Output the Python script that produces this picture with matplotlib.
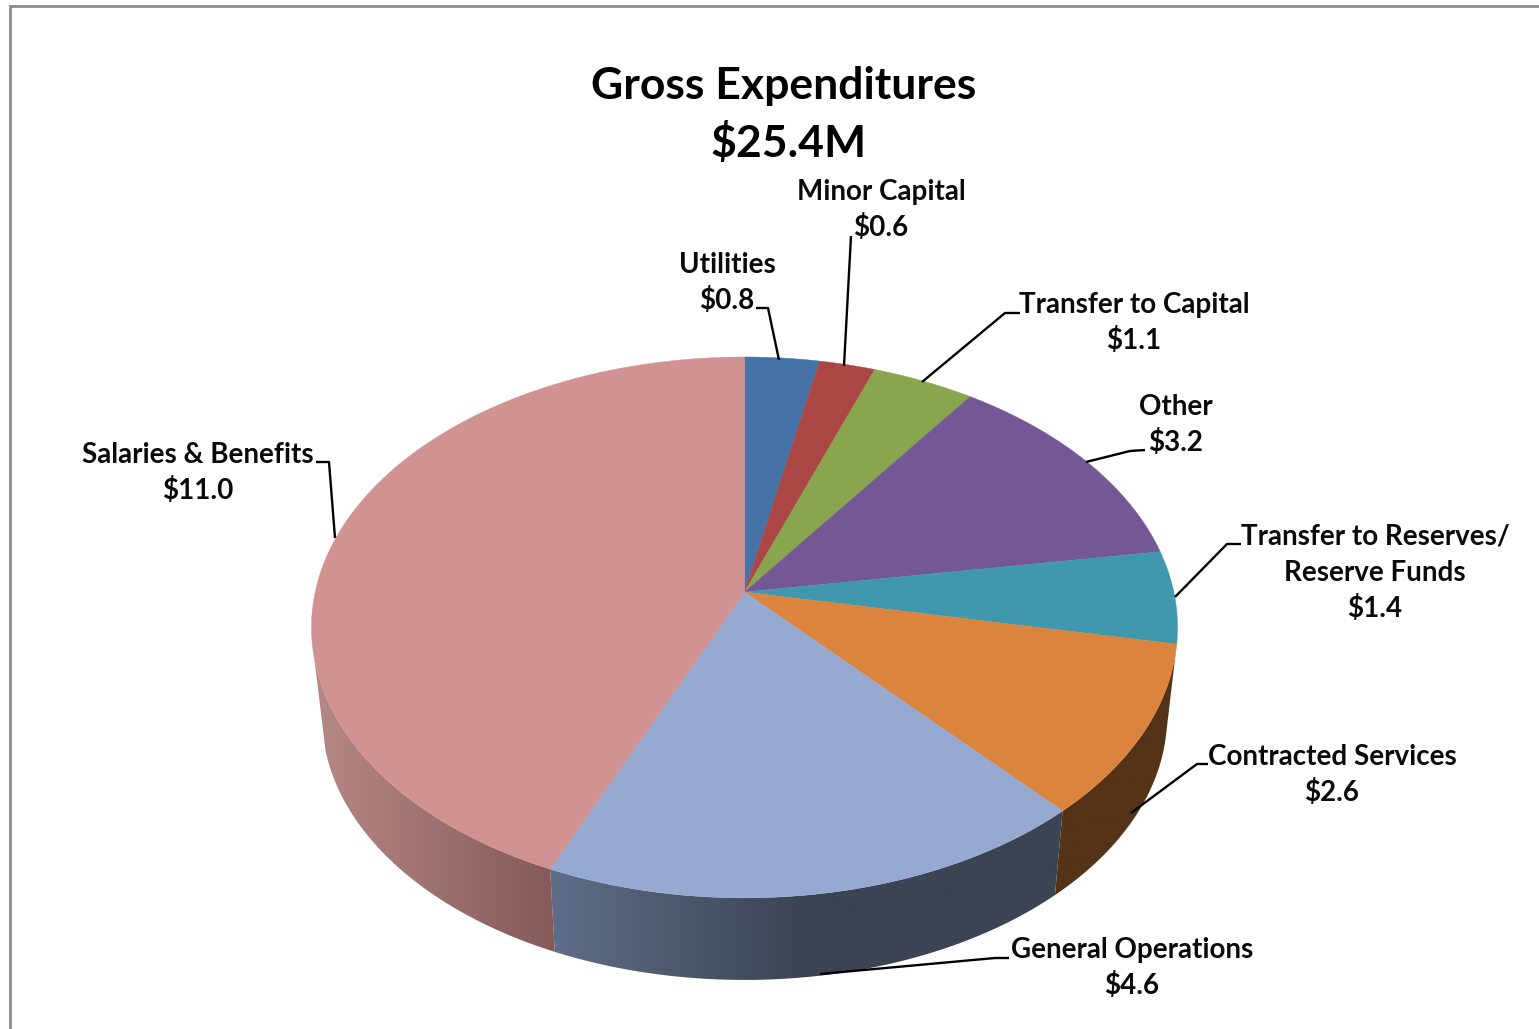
import numpy as np
import matplotlib
matplotlib.use('Agg')
import matplotlib.pyplot as plt
from matplotlib.patches import Polygon
from matplotlib.colors import LinearSegmentedColormap

# Budget figures ($M), clockwise from 12 o'clock
categories = ['Utilities', 'Minor Capital', 'Transfer to Capital', 'Other',
              'Transfer to Reserves/\nReserve Funds', 'Contracted Services',
              'General Operations', 'Salaries & Benefits']
values = [0.8, 0.6, 1.1, 3.2, 1.4, 2.6, 4.6, 11.0]
total_label = '$25.4M'
colors = ['#4573a7', '#aa4644', '#89a54e', '#745896',
          '#4098af', '#db843d', '#96a9d1', '#d19392']

# Label centre (first line) and leader polyline for each slice, in pixels
label_pos = [(727, 265), (881, 192), (1134, 305), (1176, 407),
             (1375, 537), (1332, 757), (1132, 950), (198, 455)]
leaders = [[(756, 308), (768, 308), (779, 360)],
           [(851, 236), (844, 366)],
           [(1020, 313), (1005, 313), (922, 382)],
           [(1145, 450), (1130, 451), (1086, 462)],
           [(1241, 544), (1227, 544), (1175, 597)],
           [(1208, 764), (1197, 764), (1131, 813)],
           [(1009, 958), (995, 958), (820, 974)],
           [(316, 462), (329, 462), (335, 538)]]

# Perspective disc: apex, radii and foreshortening of the top face
CX, CY = 744.5, 592.0
A, B, K = 429.3, 265.8, 0.131
DEPTH_SCALE, BOTTOM_CY = 0.976, 681.4
LINE_PX = 35.8

plt.rcParams['font.family'] = ['Lato', 'DejaVu Sans']
plt.rcParams['font.weight'] = 'bold'


def rim(deg, scale=1.0, cy=CY):
    # project clockwise angles (0 = top) on to the tilted disc
    t = np.radians(deg)
    u, v = np.sin(t), -np.cos(t)
    d = 1 - K * v
    return np.column_stack([CX + scale * A * u / d, cy + scale * B * v / d])


def wall(ax, a0, a1, cmap, x0, x1, a1_low=None):
    # outer wall between two angles, shaded left to right and held flat past x0/x1
    if a1_low is None:
        a1_low = a1
    top = np.linspace(a0, a1, max(int(abs(a1 - a0) * 2), 2))
    low = np.linspace(a1_low, a0, max(int(abs(a1_low - a0) * 2), 2))
    pts = np.vstack([rim(top), rim(low, DEPTH_SCALE, BOTTOM_CY)])
    poly = Polygon(pts, closed=True, facecolor='none', edgecolor='none')
    ax.add_patch(poly)
    xs = np.arange(pts[:, 0].min() - 3, pts[:, 0].max() + 3)
    grad = np.clip((xs - x0) / (x1 - x0), 0, 1).reshape(1, -1)
    im = ax.imshow(grad, extent=(xs[0], xs[-1], 1029, 0), cmap=cmap, vmin=0, vmax=1,
                   aspect='auto', zorder=2, interpolation='bilinear')
    im.set_clip_path(poly)


fig = plt.figure(figsize=(15.39, 10.29), dpi=100)
ax = fig.add_axes([0, 0, 1, 1])

# chart frame, only top and left fall inside the image
ax.plot([9.5, 9.5, 1539], [1029, 6, 6], color='#868686', lw=1.9, zorder=1,
        solid_joinstyle='miter')

edges = np.cumsum([0] + values) / sum(values) * 360

orange_wall = LinearSegmentedColormap.from_list('o', ['#553316', '#553316'])
blue_wall = LinearSegmentedColormap.from_list('b', ['#5e6d88', '#3c4353', '#3c4353'])
pink_wall = LinearSegmentedColormap.from_list('p', ['#b48784', '#855a59'])
wall(ax, edges[5], edges[6], orange_wall, 1000, 1200)
wall(ax, edges[6], edges[7], blue_wall, 553, 1056)
wall(ax, edges[7], 256, pink_wall, 320, 553, a1_low=255)

# top face
for i, c in enumerate(colors):
    angles = np.linspace(edges[i], edges[i + 1], 200)
    pts = np.vstack([[CX, CY], rim(angles)])
    ax.add_patch(Polygon(pts, closed=True, facecolor=c, edgecolor=c, lw=0.3, zorder=3))

# leaders
for line in leaders:
    xs, ys = zip(*line)
    ax.plot(xs, ys, color='black', lw=1.7, zorder=4, solid_capstyle='butt')

# labels, one text per line so the spacing stays on the pixel rows
for name, v, (x, y) in zip(categories, values, label_pos):
    lines = name.split('\n') + [f'${v:.1f}']
    for j, s in enumerate(lines):
        ax.text(x, y + j * LINE_PX, s, ha='center', va='center', fontsize=20,
                color='#0a0a0a', zorder=5, parse_math=False)

ax.text(784, 86, 'Gross Expenditures', ha='center', va='center', fontsize=32,
        color='black', parse_math=False)
ax.text(789, 143, total_label, ha='center', va='center', fontsize=32,
        color='black', parse_math=False)

ax.set_xlim(0, 1539)
ax.set_ylim(1029, 0)
ax.axis('off')

fig.savefig('out.png', dpi=100, facecolor='white')
